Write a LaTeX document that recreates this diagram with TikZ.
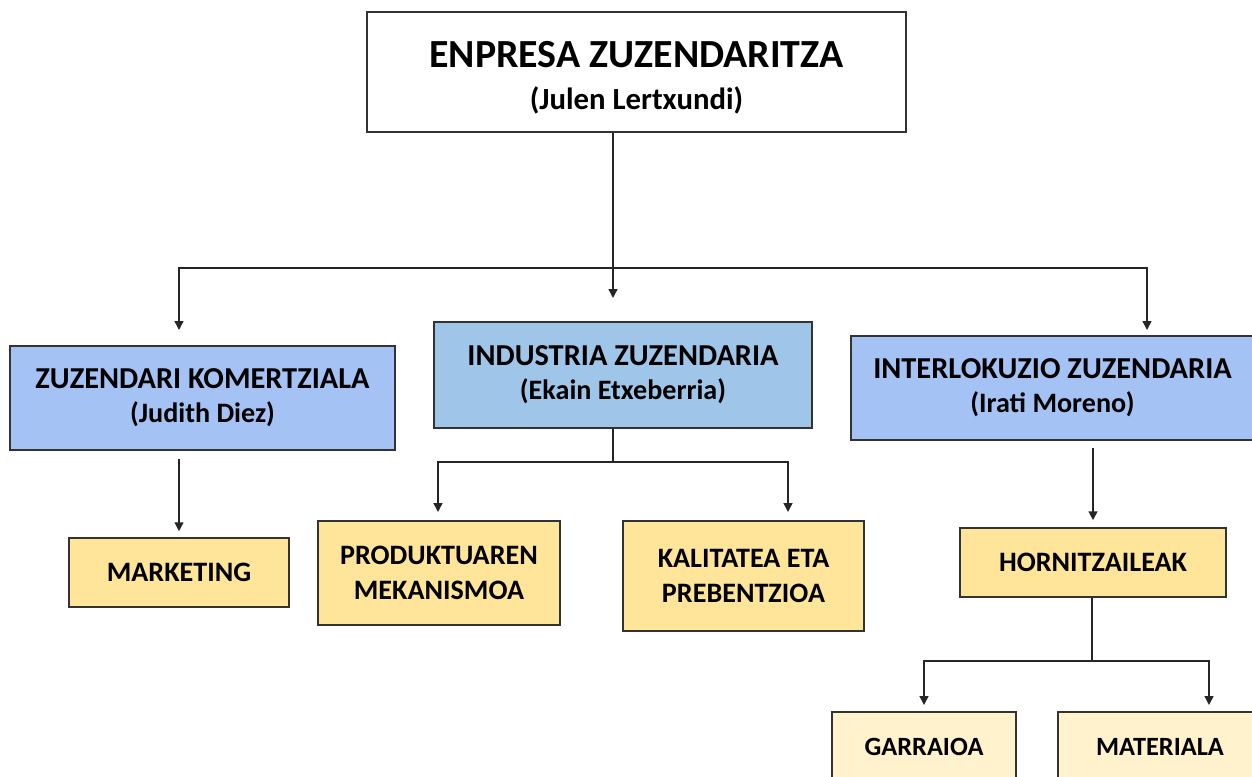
\documentclass[tikz,border=0pt]{standalone}
\usepackage{fontspec}
\setmainfont{Carlito}
\usepackage{xcolor}
\usepackage{tikz}
\usetikzlibrary{positioning}
\usetikzlibrary{arrows.meta}
\definecolor{dirblue}{HTML}{A4C2F4}
\definecolor{indblue}{HTML}{9FC5E8}
\definecolor{deptyellow}{HTML}{FFE599}
\definecolor{subyellow}{HTML}{FFF2CC}
\definecolor{edge}{HTML}{333333}
\tikzset{
	orgbox/.style={
			draw=edge,
			line width=0.9pt,
			align=center,
			inner sep=0pt,
			font=\bfseries\fontsize{16}{20}\selectfont
		},
	topbox/.style={orgbox, fill=white, font=\bfseries\fontsize{22.7}{25}\selectfont},
	dirbox/.style={orgbox, fill=dirblue, font=\bfseries\fontsize{17.3}{19.5}\selectfont},
	deptbox/.style={orgbox, fill=deptyellow},
	subbox/.style={orgbox, fill=subyellow, font=\bfseries\fontsize{15}{18}\selectfont},
	link/.style={line width=0.8pt, draw=black!85},
	tip/.style={link, -{Triangle[width=5pt,length=5pt]}},
	twotip/.style={link, {Triangle[width=5pt,length=5pt]}-{Triangle[width=5pt,length=5pt]}}
}

\begin{document}
\begin{tikzpicture}
		\clip (0,0) rectangle (25.04,15.52);

		% Enpresa zuzendaritza
		\node[topbox,
			minimum width=10.78cm,
			minimum height=2.4cm
		] (top) at (12.73,14.08) {\rule{0pt}{21.5pt}ENPRESA ZUZENDARITZA\\[-1.5pt]{\fontsize{17.5}{20}\selectfont (Julen Lertxundi)}};

		% Zuzendariak
		\node[dirbox,
			minimum width=7.7cm,
			minimum height=2.08cm
		] (kom) at (4.05,7.56) {ZUZENDARI KOMERTZIALA\\{\fontsize{16}{18}\selectfont (Judith Diez)}};

		\node[dirbox,
			fill=indblue,
			minimum width=7.56cm,
			minimum height=2.12cm
		] (ind) at (12.46,8.02) {INDUSTRIA ZUZENDARIA\\{\fontsize{16}{18}\selectfont (Ekain Etxeberria)}};

		\node[dirbox,
			minimum width=8.06cm,
			minimum height=2.08cm
		] (inter) at (21.05,7.76) {INTERLOKUZIO ZUZENDARIA\\{\fontsize{16}{18}\selectfont (Irati Moreno)}};

		% Sailak
		\node[deptbox,
			minimum width=4.4cm,
			minimum height=1.38cm
		] (mkt) at (3.58,4.07) {MARKETING};

		\node[deptbox,
			minimum width=4.84cm,
			minimum height=2.08cm
		] (prod) at (8.78,4.06) {PRODUKTUAREN\\MEKANISMOA};

		\node[deptbox,
			minimum width=4.82cm,
			minimum height=2.2cm
		] (kal) at (14.87,4.0) {KALITATEA ETA\\PREBENTZIOA};

		\node[deptbox,
			minimum width=5.32cm,
			minimum height=1.38cm
		] (horn) at (21.86,4.27) {HORNITZAILEAK};

		% Azpisailak
		\node[subbox,
			minimum width=3.68cm,
			minimum height=1.4cm
		] (garr) at (18.48,0.58) {GARRAIOA};

		\node[subbox,
			minimum width=4.08cm,
			minimum height=1.4cm
		] (mat) at (23.2,0.58) {MATERIALA};

		% Junctions and arrow ends
		\coordinate (busA) at (12.26,10.16);
		\coordinate (topend) at (12.26,9.56);
		\coordinate (komin) at (3.58,8.92);
		\coordinate (intin) at (22.94,8.92);
		\coordinate (busB) at (12.26,6.28);
		\coordinate (prodin) at (8.76,5.28);
		\coordinate (kalin) at (15.76,5.28);
		\coordinate (busC) at (21.84,2.3);
		\coordinate (garrin) at (18.48,1.42);
		\coordinate (matin) at (24.18,1.42);

		% Arrows
		\draw[tip] (top.south -| topend) -- (topend);
		\draw[twotip] (komin) |- (busA) -| (intin);

		\draw[tip] ([yshift=-0.16cm]kom.south -| mkt.north) -- ([yshift=0.12cm]mkt.north);

		\draw[link] (ind.south -| busB) -- (busB);
		\draw[twotip] (prodin) |- (busB) -| (kalin);

		\draw[tip] ([yshift=-0.14cm]inter.south -| horn.north) -- ([yshift=0.14cm]horn.north);

		\draw[link] (horn.south -| busC) -- (busC);
		\draw[twotip] (garrin) |- (busC) -| (matin);
	\end{tikzpicture}
\end{document}
